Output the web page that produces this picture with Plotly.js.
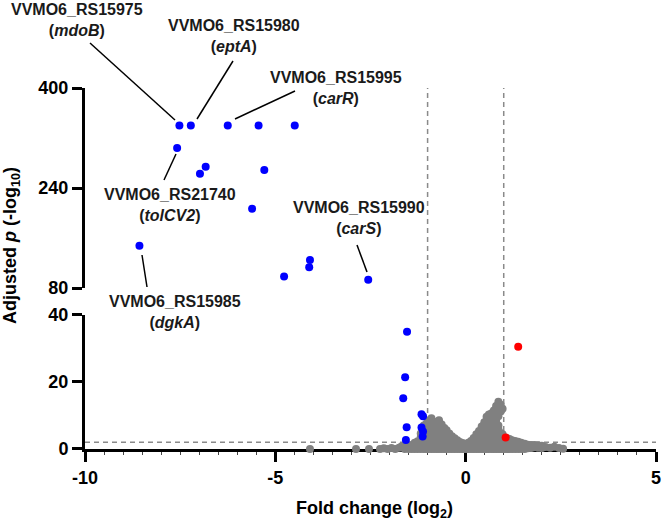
<!DOCTYPE html>
<html><head><meta charset="utf-8">
<script src="https://cdn.plot.ly/plotly-3.0.1.min.js"></script>
<style>html,body{margin:0;padding:0;background:#fff}#chart{width:666px;height:521px}</style>
</head><body><div id="chart"></div>
<script>
// ---- data ----
// significantly down-regulated genes, upper (broken) segment of the y axis
const downTopX = [-7.52, -7.22, -6.25, -5.44, -4.49, -7.58, -6.83, -6.98, -5.29, -5.61, -8.57, -4.77, -4.09, -4.11, -2.56];
const downTopY = [340, 340, 340, 340, 340, 304, 274, 263, 269, 207, 148, 98.6, 125, 113.6, 93.3];
// significantly down-regulated genes, lower segment
const downLowX = [-1.54, -1.59, -1.64, -1.16, -1.12, -1.55, -1.16, -1.12, -1.57, -1.13];
const downLowY = [35.0, 21.4, 15.1, 10.4, 9.8, 6.5, 6.4, 5.2, 2.7, 3.7];
// significantly up-regulated genes
const upX = [1.38, 1.05];
const upY = [30.5, 3.4];
// non-significant genes, grouped by fold-change column
const greyColX = [-4.09, -2.88, -2.54, -2.25, -2.15, -2.05, -1.95, -1.85, -1.75, -1.68, -1.6, -1.5,
  -1.42, -1.34, -1.26, -1.18, -1.1, -1.03, -0.97, -0.9, -0.83, -0.76, -0.7, -0.63, -0.56, -0.5,
  -0.43, -0.36, -0.29, -0.22, -0.15, -0.08, 0.0, 0.07, 0.14, 0.21, 0.28, 0.35, 0.42, 0.49, 0.55,
  0.61, 0.68, 0.74, 0.8, 0.86, 0.92, 0.97, 1.03, 1.09, 1.15, 1.22, 1.3, 1.38, 1.46, 1.55, 1.63,
  1.72, 1.8, 1.9, 2.0, 2.1, 2.22, 2.33, 2.45, 2.56];
const greyColY = [
  [0], [0], [0], [0], [0.2], [0], [0.3], [0], [0.4], [0.8], [0, 1.0], [0, 0.9],
  [0, 1.2], [0, 1.0, 1.9], [0, 1.2, 2.3], [0, 1.2, 2.4, 3.6, 4.6], [0, 1.2, 2.4, 3.6, 4.8, 6.0, 7.0],
  [0, 1.2, 2.4, 3.6, 4.8, 6.0, 7.6], [0, 1.2, 2.4, 3.6, 4.8, 6.0, 7.2, 8.5],
  [0, 1.2, 2.4, 3.6, 4.8, 6.0, 7.2, 8.4, 9.2], [0, 1.2, 2.4, 3.6, 4.8, 6.0, 7.2, 8.1],
  [0, 1.2, 2.4, 3.6, 4.8, 6.0, 7.2, 7.9], [0, 1.2, 2.4, 3.6, 4.8, 6.0, 7.2, 8.6],
  [0, 1.2, 2.4, 3.6, 4.8, 6.0, 7.3], [0, 1.2, 2.4, 3.6, 4.8, 6.3], [0, 1.2, 2.4, 3.6, 4.8, 5.6],
  [0, 1.2, 2.4, 3.6, 4.6], [0, 1.2, 2.4, 3.8], [0, 1.2, 2.3, 3.2], [0, 1.2, 2.6], [0, 1.1, 2.1],
  [0, 0.9, 1.8], [0, 0.8, 1.5], [0, 1.0, 1.9], [0, 1.2, 2.4], [0, 1.2, 2.4, 3.3],
  [0, 1.2, 2.4, 3.6, 4.4], [0, 1.2, 2.4, 3.6, 4.8, 5.4], [0, 1.2, 2.4, 3.6, 4.8, 6.0, 6.7],
  [0, 1.2, 2.4, 3.6, 4.8, 6.0, 7.2, 8.0], [0, 1.2, 2.4, 3.6, 4.8, 6.0, 7.2, 8.4, 9.6],
  [0, 1.2, 2.4, 3.6, 4.8, 6.0, 7.2, 8.4, 9.7, 10.3], [0, 1.2, 2.4, 3.6, 4.8, 6.0, 7.2, 8.4, 9.6, 10.7],
  [0, 1.2, 2.4, 3.6, 4.8, 6.0, 7.2, 8.4, 9.6, 10.8, 11.5],
  [0, 1.2, 2.4, 3.6, 4.8, 6.0, 7.2, 8.4, 9.6, 10.8, 12.0, 12.8],
  [0, 1.2, 2.4, 3.6, 4.8, 6.0, 7.0, 9.8, 11.0, 12.2, 13.3, 14.1],
  [0, 1.2, 2.4, 3.6, 4.8, 11.2, 12.3, 13.2], [0, 1.2, 2.4, 3.6, 4.4, 12.0],
  [0, 1.2, 2.4, 3.4], [0, 1.2, 2.4, 3.2], [0, 1.2, 2.4, 3.0], [0, 1.2, 2.6], [0, 1.2, 2.4],
  [0, 1.1, 2.2], [0, 1.0, 1.9], [0, 0.8, 1.6], [0.2, 1.3], [0.3, 1.2], [0.5, 1.2], [0.4, 1.1],
  [0.3, 1.0], [0.6], [0.4], [0.7], [0.3], [0.1]];
// labelled genes
const labelLocus = ['VVMO6_RS15975', 'VVMO6_RS15980', 'VVMO6_RS15995', 'VVMO6_RS21740', 'VVMO6_RS15990', 'VVMO6_RS15985'];
const labelGene = ['mdoB', 'eptA', 'carR', 'tolCV2', 'carS', 'dgkA'];
// thresholds
const fcCut = [-1, 1];
const pCut = 2;
const xTicks = [-10, -5, 0, 5];
const xTickText = ['-10', '-5', '0', '5'];
const yLowTicks = [0, 20, 40];
const yTopTicks = [80, 240, 400];

// ---- layout helpers (pixel -> paper) ----
const W = 666, H = 521, ML = 85, MR = 10, MT = 88, MB = 72;
const PW = W - ML - MR, PH = H - MT - MB;
const pxX = p => (p - ML) / PW;
const pxY = p => (MT + PH - p) / PH;

const greyX = [], greyY = [];
greyColX.forEach((x, i) => greyColY[i].forEach(y => { greyX.push(x); greyY.push(y); }));

const F = 'Liberation Sans, Arial, Helvetica, sans-serif';
const tickFont = {family: F, size: 18, color: '#000', weight: 'bold'};

const traces = [
  {x: greyX, y: greyY, xaxis: 'x', yaxis: 'y', type: 'scatter', mode: 'markers', cliponaxis: false,
   marker: {color: '#808080', size: 8}},
  {x: downLowX, y: downLowY, xaxis: 'x', yaxis: 'y', type: 'scatter', mode: 'markers', cliponaxis: false,
   marker: {color: '#0000ff', size: 8}},
  {x: upX, y: upY, xaxis: 'x', yaxis: 'y', type: 'scatter', mode: 'markers', cliponaxis: false,
   marker: {color: '#ff0000', size: 8}},
  {x: downTopX, y: downTopY, xaxis: 'x', yaxis: 'y2', type: 'scatter', mode: 'markers', cliponaxis: false,
   marker: {color: '#0000ff', size: 8}}
];

// label block centres and leader lines (pixels)
const labelPos = [[77, 20], [234, 36], [336, 88], [170, 205], [359, 218], [175, 312]];
const leaders = [[90, 43, 175, 120], [233, 61, 197, 119], [295, 91, 235, 119], [176, 154, 164, 180], [357, 245, 367, 272], [142, 255, 147, 287]];

const annotations = labelLocus.map((s, i) => ({
  xref: 'paper', yref: 'paper', x: pxX(labelPos[i][0]), y: pxY(labelPos[i][1]),
  xanchor: 'center', yanchor: 'middle', showarrow: false,
  text: s + '<br>(<i>' + labelGene[i] + '</i>)',
  font: {family: F, size: 16, color: '#1a1a1a', weight: 'bold'}
}));
annotations.push({
  xref: 'paper', yref: 'paper', x: pxX(11), y: pxY(246), xanchor: 'center', yanchor: 'middle',
  showarrow: false, textangle: -90, text: 'Adjusted <i>p</i> (-log<sub>10</sub>)',
  font: {family: F, size: 18, color: '#000', weight: 'bold'}
});
annotations.push({
  xref: 'paper', yref: 'paper', x: pxX(374), y: pxY(509), xanchor: 'center', yanchor: 'middle',
  showarrow: false, text: 'Fold change (log<sub>2</sub>)',
  font: {family: F, size: 18, color: '#000', weight: 'bold'}
});

const dash = {color: '#8a8a8a', width: 1.5, dash: '5px,4px'};
const shapes = [];
fcCut.forEach(v => shapes.push({type: 'line', xref: 'x', yref: 'paper', x0: v, x1: v, y0: 0, y1: 1, line: dash, layer: 'below'}));
shapes.push({type: 'line', xref: 'paper', yref: 'y', x0: 0, x1: 1, y0: pCut, y1: pCut, line: dash, layer: 'below'});
leaders.forEach(l => shapes.push({type: 'line', xref: 'paper', yref: 'paper',
  x0: pxX(l[0]), y0: pxY(l[1]), x1: pxX(l[2]), y1: pxY(l[3]), line: {color: '#000', width: 1.5}}));

const axBase = {showline: true, linewidth: 3, linecolor: '#000', ticks: 'outside', ticklen: 10, tickwidth: 3,
  tickcolor: '#000', showgrid: false, zeroline: false, tickfont: tickFont, fixedrange: true};

const layout = {
  width: W, height: H, margin: {l: ML, r: MR, t: MT, b: MB}, paper_bgcolor: '#fff', plot_bgcolor: '#fff',
  showlegend: false, font: {family: F},
  xaxis: Object.assign({}, axBase, {range: [-10, 5], tickmode: 'array', tickvals: xTicks, ticktext: xTickText, anchor: 'y', layer: 'below traces',
    minor: {tickmode: 'linear', tick0: -10, dtick: 0.5, ticks: 'outside', ticklen: 3, tickwidth: 1, tickcolor: '#444'}}),
  yaxis: Object.assign({}, axBase, {domain: [0, 0.3715], range: [0, 40], tickmode: 'array', tickvals: yLowTicks, anchor: 'x'}),
  yaxis2: Object.assign({}, axBase, {domain: [0.4455, 1], range: [80, 400], tickmode: 'array', tickvals: yTopTicks, anchor: 'x'}),
  annotations: annotations, shapes: shapes
};

Plotly.newPlot('chart', traces, layout, {displayModeBar: false, staticPlot: true});
</script>
</body></html>
